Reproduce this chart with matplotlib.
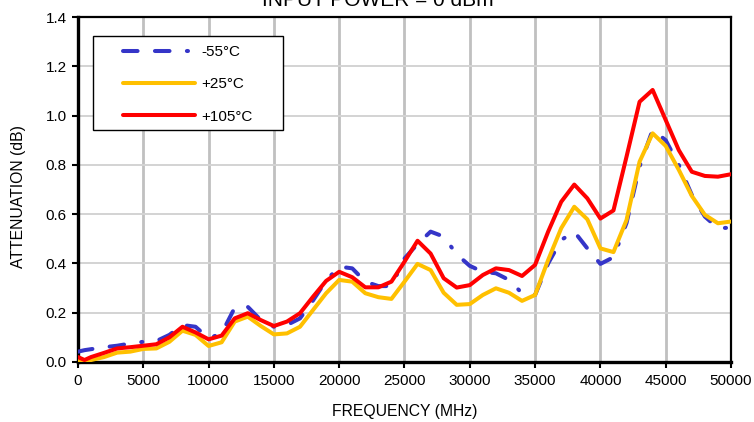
import numpy as np
import matplotlib
matplotlib.use("Agg")
import matplotlib.pyplot as plt
from matplotlib.patches import Rectangle

plt.rcParams['font.family'] = ['Liberation Sans', 'DejaVu Sans']
plt.rcParams['lines.scale_dashes'] = False

### DATA ###
freq_mhz = [10, 500] + list(range(1000, 50001, 1000))

atten_m55 = [0.042, 0.048, 0.052, 0.060, 0.066, 0.075, 0.082, 0.085, 0.110, 0.150,
             0.143, 0.096, 0.116, 0.220, 0.224, 0.170, 0.143, 0.150, 0.177, 0.250,
             0.330, 0.387, 0.380, 0.326, 0.308, 0.308, 0.420, 0.479, 0.529, 0.509,
             0.437, 0.390, 0.366, 0.360, 0.333, 0.279, 0.272, 0.400, 0.495, 0.529,
             0.461, 0.398, 0.425, 0.564, 0.793, 0.942, 0.900, 0.800, 0.678, 0.590,
             0.543, 0.545]

atten_25 = [0.005, 0.004, 0.008, 0.020, 0.038, 0.042, 0.053, 0.055, 0.082, 0.127,
            0.110, 0.065, 0.080, 0.164, 0.184, 0.146, 0.112, 0.116, 0.143, 0.211,
            0.279, 0.333, 0.326, 0.279, 0.263, 0.256, 0.326, 0.398, 0.373, 0.281,
            0.232, 0.235, 0.272, 0.299, 0.281, 0.248, 0.272, 0.414, 0.543, 0.630,
            0.579, 0.461, 0.446, 0.576, 0.813, 0.928, 0.877, 0.780, 0.674, 0.597,
            0.563, 0.570]

atten_105 = [0.020, 0.008, 0.020, 0.037, 0.055, 0.060, 0.066, 0.072, 0.100, 0.143,
             0.120, 0.092, 0.107, 0.177, 0.198, 0.170, 0.146, 0.164, 0.198, 0.265,
             0.329, 0.366, 0.344, 0.303, 0.303, 0.326, 0.407, 0.492, 0.440, 0.340,
             0.302, 0.312, 0.353, 0.380, 0.373, 0.349, 0.394, 0.529, 0.650, 0.720,
             0.664, 0.582, 0.615, 0.833, 1.056, 1.104, 0.982, 0.860, 0.772, 0.755,
             0.752, 0.762]

series_labels = ['-55°C', '+25°C', '+105°C']
x_ticks = np.arange(0, 50001, 5000)
y_ticks = np.arange(0, 1.41, 0.2)

fig = plt.figure(figsize=(7.54, 4.22), dpi=100)
ax = fig.add_axes([0.1034, 0.1422, 0.8661, 0.8175])

lw = 2.9
ax.plot(freq_mhz, atten_m55, color='#3535C8', lw=lw, label=series_labels[0],
        dashes=(10.5, 12.5, 10.5, 12.5, 0.8, 12.5), dash_capstyle='round',
        zorder=3)
ax.plot(freq_mhz, atten_25, color='#FFC000', lw=lw, label=series_labels[1],
        solid_capstyle='round', zorder=4)
ax.plot(freq_mhz, atten_105, color='#FF0000', lw=lw, label=series_labels[2],
        solid_capstyle='round', zorder=5)

ax.set_xlim(0, 50000)
ax.set_ylim(0, 1.4)
ax.set_xticks(x_ticks)
ax.set_yticks(y_ticks)
ax.set_xticklabels([str(int(v)) for v in x_ticks])
ax.set_yticklabels([f'{v:.1f}' for v in y_ticks])

# grid: vertical thicker than horizontal
ax.grid(axis='x', color='#C0C0C0', lw=2.0, zorder=0)
ax.grid(axis='y', color='#D3D3D3', lw=1.4, zorder=0)
ax.set_axisbelow(True)

for side in ['left', 'bottom']:
    ax.spines[side].set_linewidth(2.4)
for side in ['top', 'right']:
    ax.spines[side].set_linewidth(1.6)

ax.tick_params(axis='both', direction='out', length=4, width=1.5,
               labelsize=11, colors='black')
ax.tick_params(axis='x', pad=5)
ax.tick_params(axis='y', pad=4)

ax.set_xlabel('FREQUENCY (MHz)', fontsize=11.3)
ax.set_ylabel('ATTENUATION (dB)', fontsize=11.3)
ax.xaxis.set_label_coords((405 - 78) / 653, (362 - 404) / 345)
ax.yaxis.set_label_coords((26 - 78) / 653, (362 - 197) / 345)

fig.text(378 / 754, 1.0 - 5.5 / 422, 'INPUT POWER = 0 dBm', ha='center',
         va='baseline', fontsize=15)

# legend frame drawn separately so the inner padding matches
ax.add_patch(Rectangle((15 / 653, (362 - 130) / 345), 190 / 653, 94 / 345,
                       transform=ax.transAxes, facecolor='white',
                       edgecolor='black', lw=1.0, zorder=6))
leg = ax.legend(loc='upper left', bbox_to_anchor=(45 / 653, (362 - 45) / 345),
                borderaxespad=0, borderpad=0, fontsize=11, handlelength=4.7,
                handletextpad=0.4, labelspacing=1.2, frameon=False)
leg.set_zorder(7)

fig.savefig('out.png', dpi=100)
